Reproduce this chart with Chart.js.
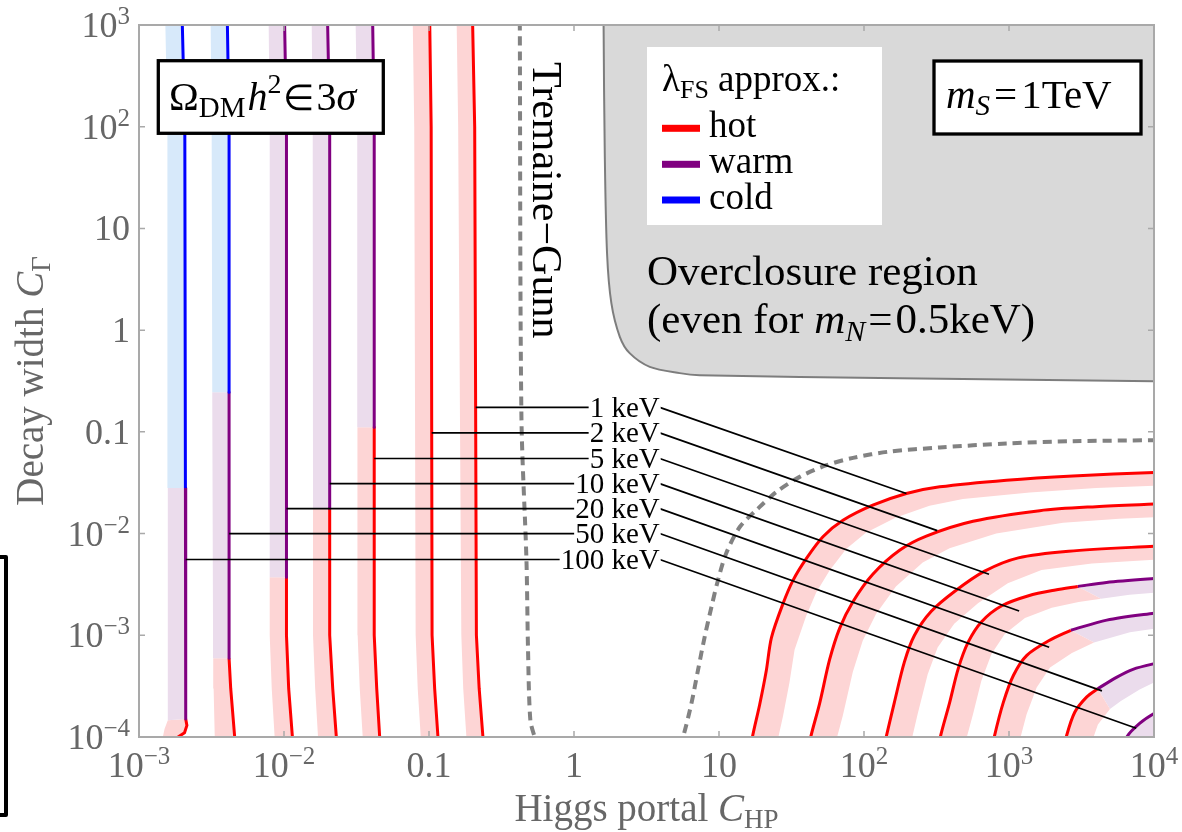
<!DOCTYPE html>
<html lang="en">
<head>
<meta charset="utf-8">
<title>Relic abundance contours, m_S = 1 TeV</title>
<script src="https://cdn.jsdelivr.net/npm/chart.js@4.4.1/dist/chart.umd.min.js"></script>
<style>
  html, body { margin: 0; padding: 0; background: #ffffff; }
  canvas { display: block; }
</style>
</head>
<body>
<canvas id="plot" width="1182" height="832"></canvas>
<script>
// ---------------- axis ticks ----------------
const xTickValues = [1e-3, 1e-2, 0.1, 1, 10, 1e2, 1e3, 1e4];
const xTickLabels = ['10^-3', '10^-2', '0.1', '1', '10', '10^2', '10^3', '10^4'];
const yTickValues = [1e-4, 1e-3, 1e-2, 0.1, 1, 10, 1e2, 1e3];
const yTickLabels = ['10^-4', '10^-3', '10^-2', '0.1', '1', '10', '10^2', '10^3'];

// ---------------- mass labels and their pointer lines ----------------
const massLabels   = ['1 keV', '2 keV', '5 keV', '10 keV', '20 keV', '50 keV', '100 keV'];
const pointerY     = [0.174, 0.0977, 0.0547, 0.0310, 0.0176, 0.0100, 0.00556];
const pointerFromX = [0.210, 0.1044, 0.0419, 0.02066, 0.0104, 0.00418, 0.0021];
const pointerLabelX = 3.9;
const pointerToX   = [196, 320, 728, 1175, 1892, 4375, 7540];
const pointerToY   = [0.0248, 0.0107, 3.98e-3, 1.73e-3, 7.62e-4, 2.84e-4, 1.22e-4];

// ---------------- contours, small-C_HP branch ----------------
// points are [C_HP, C_Gamma]; phase letters per segment: h = hot, w = warm, c = cold
const left100keV      = [[0.00199,3000],[0.00199,1000],[0.00207,100],[0.00209,0.0281],[0.00210,1e-3],[0.00210,1.5e-4],[0.00214,1.3e-4],[0.00206,1.1e-4],[0.00186,1.0e-4],[0.00176,9e-5]];
const left100keVPhase = 'cccwwhhhh';
const left100keVBand  = [[0.00152,3000],[0.00152,1000],[0.00157,100],[0.00158,0.0281],[0.00158,1e-3],[0.00158,1.46e-4],[0.00150,1.2e-4],[0.00146,1e-4],[0.00146,9e-5]];
const left100keVBandPhase = 'cccwwhhh';

const left50keV      = [[0.00407,3000],[0.00407,1000],[0.00418,100],[0.00418,0.245],[0.00418,1e-3],[0.00418,5.94e-4],[0.00429,3e-4],[0.00457,1e-4],[0.00470,8e-5]];
const left50keVPhase = 'cccwwhhh';
const left50keVBand  = [[0.00312,3000],[0.00312,1000],[0.00317,100],[0.00320,0.245],[0.00324,1e-3],[0.00325,5.94e-4],[0.00327,3e-4],[0.00333,1e-4],[0.00336,8e-5]];

const left20keV      = [[0.0101,3000],[0.0101,1000],[0.0104,100],[0.0104,3.72e-3],[0.0104,1e-3],[0.01077,3e-4],[0.01143,1e-4],[0.0117,8e-5]];
const left20keVPhase = 'wwwhhhh';
const left20keVBand  = [[0.00784,3000],[0.00784,1000],[0.00797,100],[0.00797,3.72e-3],[0.00797,1e-3],[0.00823,3e-4],[0.00862,1e-4],[0.0088,8e-5]];

const left10keV      = [[0.0200,3000],[0.0200,1000],[0.02066,100],[0.02066,0.01774],[0.02066,1e-3],[0.02168,3e-4],[0.02296,1e-4],[0.0235,8e-5]];
const left10keVPhase = 'wwwhhhh';
const left10keVBand  = [[0.01553,3000],[0.01553,1000],[0.01578,100],[0.01585,0.01774],[0.01585,1e-3],[0.01641,3e-4],[0.01716,1e-4],[0.0175,8e-5]];

const left5keV      = [[0.0409,3000],[0.0409,1000],[0.0419,100],[0.0419,0.111],[0.0419,1e-3],[0.0436,3e-4],[0.0457,1e-4],[0.0466,8e-5]];
const left5keVPhase = 'wwwhhhh';
const left5keVBand  = [[0.0312,3000],[0.0312,1000],[0.0320,100],[0.0321,0.111],[0.0322,1e-3],[0.0333,3e-4],[0.0349,1e-4],[0.0355,8e-5]];

const left2keV      = [[0.1012,3000],[0.1012,1000],[0.1035,100],[0.1050,1e-3],[0.1094,3e-4],[0.1153,1e-4],[0.118,8e-5]];
const left2keVBand  = [[0.0773,3000],[0.0773,1000],[0.0791,100],[0.0809,1e-3],[0.0836,3e-4],[0.0877,1e-4],[0.089,8e-5]];

const left1keV      = [[0.200,3000],[0.200,1000],[0.2066,100],[0.2123,1e-3],[0.2218,3e-4],[0.2355,1e-4],[0.240,8e-5]];
const left1keVBand  = [[0.1552,3000],[0.1552,1000],[0.1589,100],[0.1671,1e-3],[0.1722,3e-4],[0.1811,1e-4],[0.184,8e-5]];

// ---------------- contours, large-C_HP branch ----------------
const right1keV     = [[16.2,6.3e-5],[17.0,1.0e-4],[19.1,2.1e-4],[21.2,4.5e-4],[23.0,9.5e-4],[27.6,2.04e-3],[32.4,3.47e-3],[40.1,5.7e-3],[52.1,9.3e-3],[71.6,0.0135],[115,0.019],[196,0.0248],[333,0.0288],[960,0.0335],[2760,0.0369],[10000,0.0398],[15800,0.0407]];
const right1keVBand = [[23.4,4.8e-5],[24.6,7.6e-5],[27.6,1.59e-4],[30.6,3.42e-4],[33.2,7.2e-4],[39.9,1.55e-3],[46.8,2.63e-3],[57.9,4.33e-3],[75.3,7.06e-3],[103,0.0102],[166,0.0144],[283,0.0188],[481,0.0219],[1390,0.0254],[3990,0.0280],[14450,0.0302],[22800,0.0309]];

const right2keV     = [[41.2,7.1e-5],[42.9,1.0e-4],[49.4,2.13e-4],[57.9,5.75e-4],[67.9,1.17e-3],[83.9,2.14e-3],[115,3.98e-3],[176,6.85e-3],[269,9.44e-3],[565,0.0132],[1630,0.0168],[3980,0.0184],[10000,0.0195],[15800,0.0200]];
const right2keVBand = [[59.5,5.4e-5],[62.0,7.6e-5],[71.4,1.62e-4],[83.7,4.36e-4],[98.1,8.9e-4],[121,1.62e-3],[166,3.02e-3],[254,5.2e-3],[389,7.17e-3],[816,0.0100],[2360,0.0128],[5750,0.0140],[14450,0.0148],[22800,0.0152]];

const right5keV     = [[135,7.1e-5],[141,9.5e-5],[162,2.19e-4],[190,5.47e-4],[223,1.0e-3],[290,1.71e-3],[423,2.71e-3],[679,4.27e-3],[1160,5.77e-3],[2580,6.70e-3],[10000,7.52e-3],[15800,7.76e-3]];
const right5keVBand = [[195,5.4e-5],[204,7.2e-5],[234,1.66e-4],[275,4.15e-4],[322,7.6e-4],[419,1.30e-3],[611,2.06e-3],[981,3.24e-3],[1676,4.38e-3],[3728,5.09e-3],[14450,5.71e-3],[22800,5.89e-3]];

const right10keV      = [[324,7.1e-5],[336,1.0e-4],[390,2.19e-4],[446,4.68e-4],[524,8.6e-4],[647,1.36e-3],[891,1.95e-3],[1365,2.45e-3],[2090,2.79e-3],[2980,3.02e-3],[4700,3.31e-3],[10000,3.61e-3],[15800,3.76e-3]];
const right10keVPhase = 'hhhhhhhhhwww';
const right10keVBand  = [[468,5.4e-5],[486,7.6e-5],[564,1.66e-4],[644,3.55e-4],[757,6.53e-4],[935,1.03e-3],[1288,1.48e-3],[1972,1.86e-3],[3020,2.12e-3],[4306,2.29e-3],[6790,2.51e-3],[14450,2.74e-3],[22800,2.85e-3]];

const right20keV      = [[759,7.1e-5],[791,1.0e-4],[914,2.19e-4],[1074,4.05e-4],[1327,6.35e-4],[1879,8.83e-4],[2670,1.12e-3],[4720,1.41e-3],[10000,1.65e-3],[15800,1.78e-3]];
const right20keVPhase = 'hhhhhhwww';
const right20keVBand  = [[1097,5.4e-5],[1143,7.6e-5],[1321,1.66e-4],[1552,3.07e-4],[1918,4.82e-4],[2715,6.70e-4],[3858,8.50e-4],[6820,1.07e-3],[14450,1.25e-3],[22800,1.35e-3]];

const right50keV          = [[2370,7.1e-5],[2480,1.0e-4],[2840,1.75e-4],[3440,2.48e-4],[4090,2.98e-4],[5510,3.86e-4],[7160,4.63e-4],[10000,5.25e-4],[15800,6.0e-4]];
const right50keVPhase     = 'hhhhwwww';
const right50keVBand      = [[3425,5.4e-5],[3584,7.6e-5],[4104,1.33e-4],[4971,1.88e-4],[5910,2.26e-4],[7962,2.93e-4],[10346,3.51e-4],[14450,3.98e-4],[22831,4.55e-4]];
const right50keVBandPhase = 'hhhwwwww';

const right100keV     = [[6170,7.1e-5],[6490,1.0e-4],[7960,1.36e-4],[10000,1.70e-4],[15800,2.4e-4]];
const right100keVBand = [[8916,5.4e-5],[9378,7.6e-5],[11502,1.03e-4],[14450,1.29e-4],[22831,1.82e-4]];

// ---------------- Tremaine-Gunn bound ----------------
const tremaineGunnLow  = [[0.423,3000],[0.423,1000],[0.434,0.139],[0.470,5.47e-3],[0.482,7.1e-4],[0.500,1.46e-4],[0.536,1.0e-4],[0.57,8e-5]];
const tremaineGunnHigh = [[5.3,8e-5],[5.65,1e-4],[6.45,2.13e-4],[7.16,4.53e-4],[7.96,9.6e-4],[8.87,1.9e-3],[9.84,3.48e-3],[11.2,6.37e-3],[13.9,0.0116],[18.1,0.017],[24.9,0.0257],[36.0,0.0361],[55.1,0.047],[84,0.0555],[150,0.064],[333,0.0702],[960,0.0769],[2760,0.0809],[10000,0.0828],[15000,0.0835]];

// ---------------- overclosed region (even for m_N = 0.5 keV) ----------------
const overclosure = [[1.60,5000],[1.60,1000],[1.63,55],[1.69,5.7],[1.81,1.84],[2.07,0.86],[2.42,0.594],[3.33,0.436],[5.36,0.378],[7.36,0.361],[176,0.337],[10000,0.315],[1e5,0.31],[1e5,5000]];

// ---------------- styling ----------------
const LINE_COLOR = { h: '#ff0000', w: '#800080', c: '#0000ff' };
const BAND_COLOR = { h: '#fdd5d5', w: '#ebdcec', c: '#d7e9fa' };
const FONT = '"Liberation Serif", "Times New Roman", Times, serif';
const GREY_TEXT = '#676767';

// contour table: line, line phases, band edge, band phases, tension
const contourTable = [
  [left100keV, left100keVPhase, left100keVBand, left100keVBandPhase, 0],
  [left50keV,  left50keVPhase,  left50keVBand,  left50keVPhase, 0],
  [left20keV,  left20keVPhase,  left20keVBand,  left20keVPhase, 0],
  [left10keV,  left10keVPhase,  left10keVBand,  left10keVPhase, 0],
  [left5keV,   left5keVPhase,   left5keVBand,   left5keVPhase, 0],
  [left2keV,   'h', left2keVBand, 'h', 0],
  [left1keV,   'h', left1keVBand, 'h', 0],
  [right1keV,  'h', right1keVBand, 'h', 0.3],
  [right2keV,  'h', right2keVBand, 'h', 0.3],
  [right5keV,  'h', right5keVBand, 'h', 0.3],
  [right10keV, right10keVPhase, right10keVBand, right10keVPhase, 0.3],
  [right20keV, right20keVPhase, right20keVBand, right20keVPhase, 0.3],
  [right50keV, right50keVPhase, right50keVBand, right50keVBandPhase, 0.3],
  [right100keV, 'w', right100keVBand, 'w', 0.3]
];

const toXY = pts => pts.map(([x, y]) => ({ x, y }));

// split a polyline into runs of equal phase; each run shares its end point with the next
function splitRuns(pts, phases) {
  const ph = i => phases[Math.min(i, phases.length - 1)];
  const nSeg = pts.length - 1;
  const out = [];
  let start = 0;
  for (let i = 1; i <= nSeg; i++) {
    if (i === nSeg || ph(i) !== ph(start)) {
      out.push({ phase: ph(start), pts: pts.slice(start, i + 1) });
      start = i;
    }
  }
  return out;
}

const datasets = [];
const base = { pointRadius: 0, pointHoverRadius: 0, showLine: true };

// overclosed region
datasets.push({ ...base, data: toXY(overclosure), fill: 'shape', backgroundColor: '#d9d9d9',
  borderColor: '#7d7d7d', borderWidth: 2, tension: 0.3, order: 6 });

// uncertainty bands and contour lines
contourTable.forEach(([line, lp, band, bp, tension]) => {
  const lineRuns = splitRuns(line, lp);
  const bandRuns = splitRuns(band, bp);
  lineRuns.forEach((run, k) => {
    const edge = bandRuns[Math.min(k, bandRuns.length - 1)].pts.slice().reverse();
    datasets.push({ ...base, data: toXY(run.pts.concat(edge)), fill: 'shape',
      backgroundColor: BAND_COLOR[run.phase], borderWidth: 0, borderColor: 'rgba(0,0,0,0)',
      tension: 0, order: 5 });
    datasets.push({ ...base, data: toXY(run.pts), fill: false, borderColor: LINE_COLOR[run.phase],
      borderWidth: 3, tension, order: 3 });
  });
});

// Tremaine-Gunn bound
[tremaineGunnLow, tremaineGunnHigh].forEach(pts => {
  datasets.push({ ...base, data: toXY(pts), fill: false, borderColor: '#828282', borderWidth: 4,
    borderDash: [9, 6], tension: 0.3, order: 4 });
});

// pointer lines from each label to both branches
massLabels.forEach((_, i) => {
  datasets.push({ ...base, fill: false, borderColor: '#000000', borderWidth: 1.7, tension: 0, order: 1,
    data: [{ x: pointerFromX[i], y: pointerY[i] }, { x: pointerLabelX, y: pointerY[i] },
           { x: pointerToX[i], y: pointerToY[i] }] });
});

// ---------------- text helpers ----------------
const fontOf = r => (r.italic ? 'italic ' : '') + r.size + 'px ' + FONT;
function runsWidth(ctx, runs) {
  let w = 0;
  runs.forEach(r => { ctx.font = fontOf(r); w += (r.pre || 0) + ctx.measureText(r.text).width + (r.gap || 0); });
  return w;
}
function drawRuns(ctx, runs, x, y, align) {
  const w = runsWidth(ctx, runs);
  let cx = align === 'right' ? x - w : (align === 'center' ? x - w / 2 : x);
  ctx.textAlign = 'left';
  ctx.textBaseline = 'alphabetic';
  runs.forEach(r => {
    ctx.font = fontOf(r);
    cx += r.pre || 0;
    ctx.fillText(r.text, cx, y + (r.dy || 0));
    cx += ctx.measureText(r.text).width + (r.gap || 0);
  });
  return w;
}
function tickRuns(label, size) {
  const [b, e] = label.split('^');
  const runs = [{ text: b, size }];
  if (e) runs.push({ text: e.replace('-', '\u2212'), size: Math.round(size * 0.7), dy: -Math.round(size * 0.36) });
  return runs;
}

// ---------------- decorations drawn on top of the data ----------------
const decorations = {
  id: 'decorations',
  afterDatasetsDraw(chart) {
    const { ctx, chartArea: a, scales: { x: xs, y: ys } } = chart;
    ctx.save();

    // mass labels on white backing
    const lx = xs.getPixelForValue(pointerLabelX);
    massLabels.forEach((name, i) => {
      const py = ys.getPixelForValue(pointerY[i]);
      const runs = [{ text: name, size: 29 }];
      const w = runsWidth(ctx, runs);
      ctx.fillStyle = '#ffffff';
      ctx.fillRect(lx - w - 1, py - 11, w + 2, 21);
      ctx.fillStyle = '#000000';
      drawRuns(ctx, runs, lx, py + 9.5, 'right');
    });

    // relic abundance box
    ctx.fillStyle = '#ffffff';
    ctx.fillRect(158.3, 60.7, 225, 72.6);
    ctx.lineWidth = 3.3;
    ctx.strokeStyle = '#000000';
    ctx.strokeRect(158.3, 60.7, 225, 72.6);
    ctx.fillStyle = '#000000';
    drawRuns(ctx, [
      { text: '\u03A9', size: 40 },
      { text: 'DM', size: 29, dy: 7 },
      { text: 'h', size: 40, italic: true, pre: 2 },
      { text: '2', size: 28, dy: -17 },
      { text: '\u2208', size: 36, pre: 2, gap: 2 },
      { text: '3', size: 40 },
      { text: '\u03C3', size: 40, italic: true }
    ], 169, 110, 'left');

    // scalar mass box
    ctx.fillStyle = '#ffffff';
    ctx.fillRect(934, 61, 207, 73);
    ctx.strokeRect(934, 61, 207, 73);
    ctx.fillStyle = '#000000';
    drawRuns(ctx, [
      { text: 'm', size: 41, italic: true },
      { text: 'S', size: 29, italic: true, dy: 7 },
      { text: '=', size: 41, pre: 4, gap: 4 },
      { text: '1TeV', size: 41 }
    ], 946, 108, 'left');

    // legend
    ctx.fillStyle = '#ffffff';
    ctx.fillRect(647, 47, 235, 178);
    ctx.fillStyle = '#000000';
    drawRuns(ctx, [
      { text: '\u03BB', size: 37 },
      { text: 'FS', size: 26, dy: 7 },
      { text: ' approx.:', size: 37 }
    ], 662, 91, 'left');
    [['h', 'hot', 128.3, 137], ['w', 'warm', 164.3, 173], ['c', 'cold', 200, 208.5]].forEach(([p, t, sy, by]) => {
      ctx.fillStyle = LINE_COLOR[p];
      ctx.fillRect(662, sy - 3.5, 38, 7);
      ctx.fillStyle = '#000000';
      drawRuns(ctx, [{ text: t, size: 37 }], 709, by, 'left');
    });

    // overclosure text
    drawRuns(ctx, [{ text: 'Overclosure region', size: 43 }], 647, 285, 'left');
    drawRuns(ctx, [
      { text: '(even for ', size: 43 },
      { text: 'm', size: 43, italic: true },
      { text: 'N', size: 30, italic: true, dy: 8 },
      { text: '=', size: 43, pre: 3, gap: 3 },
      { text: '0.5keV)', size: 43 }
    ], 647, 333, 'left');

    // Tremaine-Gunn label
    ctx.save();
    ctx.translate(533, 62);
    ctx.rotate(Math.PI / 2);
    drawRuns(ctx, [{ text: 'Tremaine\u2212Gunn', size: 42 }], 0, 0, 'left');
    ctx.restore();

    // frame and inward ticks
    ctx.strokeStyle = '#a9a9a9';
    ctx.lineWidth = 2;
    ctx.strokeRect(a.left, a.top, a.right - a.left, a.bottom - a.top);
    ctx.lineWidth = 1.5;
    ctx.beginPath();
    xTickValues.forEach(v => {
      const px = xs.getPixelForValue(v);
      ctx.moveTo(px, a.bottom); ctx.lineTo(px, a.bottom - 6);
      ctx.moveTo(px, a.top); ctx.lineTo(px, a.top + 6);
    });
    yTickValues.forEach(v => {
      const py = ys.getPixelForValue(v);
      ctx.moveTo(a.left, py); ctx.lineTo(a.left + 6, py);
      ctx.moveTo(a.right, py); ctx.lineTo(a.right - 6, py);
    });
    ctx.stroke();

    // tick labels
    ctx.fillStyle = GREY_TEXT;
    xTickValues.forEach((v, i) => {
      drawRuns(ctx, tickRuns(xTickLabels[i], 36), xs.getPixelForValue(v), 777, 'center');
    });
    yTickValues.forEach((v, i) => {
      drawRuns(ctx, tickRuns(yTickLabels[i], 36), 130, ys.getPixelForValue(v) + 12, 'right');
    });

    // axis titles
    drawRuns(ctx, [
      { text: 'Higgs portal ', size: 39 },
      { text: 'C', size: 39, italic: true },
      { text: 'HP', size: 27, dy: 7 }
    ], (a.left + a.right) / 2, 821, 'center');
    ctx.save();
    ctx.translate(43, (a.top + a.bottom) / 2);
    ctx.rotate(-Math.PI / 2);
    drawRuns(ctx, [
      { text: 'Decay width ', size: 39 },
      { text: 'C', size: 39, italic: true },
      { text: '\u0393', size: 27, dy: 7 }
    ], 0, 0, 'center');
    ctx.restore();

    ctx.restore();
  },
  afterDraw(chart) {
    // frame bracket at the left page edge
    const { ctx } = chart;
    ctx.save();
    ctx.strokeStyle = '#000000';
    ctx.lineWidth = 4;
    ctx.lineJoin = 'round';
    ctx.strokeRect(-8, 557, 14, 258);
    ctx.restore();
  }
};

new Chart(document.getElementById('plot'), {
  type: 'line',
  data: { datasets },
  options: {
    responsive: false,
    devicePixelRatio: 1,
    animation: false,
    events: [],
    layout: { padding: { left: 139, right: 28, top: 25, bottom: 95 } },
    elements: { line: { capBezierPoints: false, borderJoinStyle: 'round' } },
    plugins: { legend: { display: false }, tooltip: { enabled: false } },
    scales: {
      x: { type: 'logarithmic', min: 1e-3, max: 1e4, display: false },
      y: { type: 'logarithmic', min: 1e-4, max: 1e3, display: false }
    }
  },
  plugins: [decorations]
});
</script>
</body>
</html>
